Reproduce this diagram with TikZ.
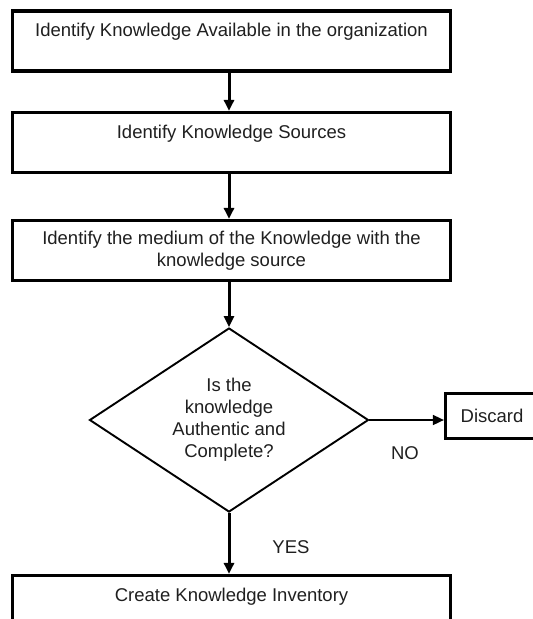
\documentclass[tikz,border=0pt]{standalone}
\usepackage{fontspec}
\setmainfont{Liberation Sans}
\usetikzlibrary{shapes.geometric,arrows.meta}
\begin{document}
\begin{tikzpicture}[x=1pt,y=-1pt,
  every node/.style={font=\fontsize{18.5}{22}\selectfont,align=center,text=black!88},
  stepbox/.style={draw,line width=3.2pt,minimum width=438pt,minimum height=60pt,inner sep=0pt},
  decide/.style={draw,diamond,aspect=1.5,line width=1.9pt,minimum width=279pt,minimum height=184pt,inner sep=0pt},
  endbox/.style={draw,line width=3.2pt,minimum width=93pt,minimum height=45pt,inner sep=0pt},
  flow/.style={line width=3pt,-{Triangle[length=11pt,width=10pt]}},
  thinflow/.style={line width=1.6pt,-{Triangle[length=11pt,width=10pt]}}]
  \useasboundingbox (0,0) rectangle (533,619);
  \clip (0,0) rectangle (533,619);
  \node[stepbox] (avail) at (231.5,41) {Identify Knowledge Available in the organization\\ \mbox{}};
  \node[stepbox] (sources) at (231.5,142.5) {Identify Knowledge Sources\\ \mbox{}};
  \node[stepbox] (medium) at (231.5,250.5) {Identify the medium of the Knowledge with the\\ knowledge source};
  \node[decide] (check) at (229,420) {Is the\\ knowledge\\ Authentic and\\ Complete?};
  \node[endbox] (discard) at (492,416) {Discard};
  \node[stepbox] (inventory) at (231.5,605.5) {Create Knowledge Inventory\\ \mbox{}};
  \node (no) at (405,453) {NO};
  \node (yes) at (291,547) {YES};
  \draw[flow] (avail.south -| check) -- (sources.north -| check);
  \draw[flow] (sources.south -| check) -- (medium.north -| check);
  \draw[flow] (medium.south -| check) -- (check.north);
  \draw[thinflow] (check.east) -- (discard.west |- check.east);
  \draw[flow] (check.south) -- (inventory.north -| check);
\end{tikzpicture}
\end{document}
